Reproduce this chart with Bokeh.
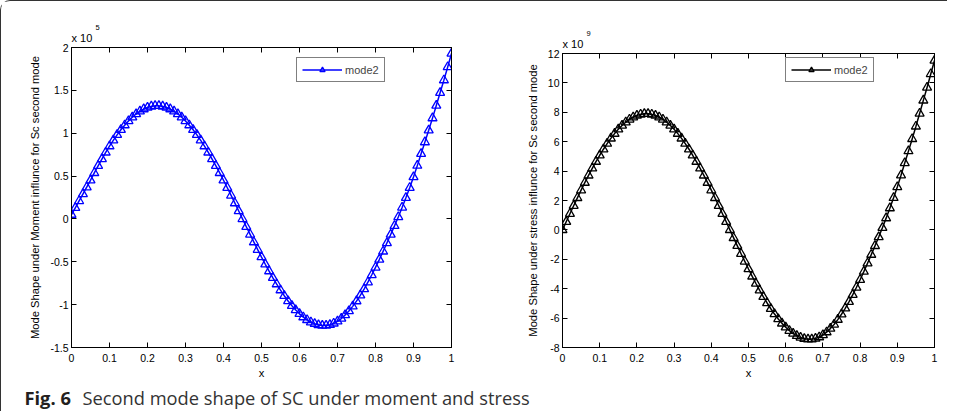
from bokeh.plotting import figure
from bokeh.layouts import column, row
from bokeh.models import LinearAxis, FixedTicker, Label, Legend, LegendItem, Range1d, Title
from bokeh.embed import file_html
from bokeh.resources import INLINE

# ---------------- data ----------------
x_vals = [0.00, 0.01, 0.02, 0.03, 0.04, 0.05, 0.06, 0.07, 0.08, 0.09,
          0.10, 0.11, 0.12, 0.13, 0.14, 0.15, 0.16, 0.17, 0.18, 0.19,
          0.20, 0.21, 0.22, 0.23, 0.24, 0.25, 0.26, 0.27, 0.28, 0.29,
          0.30, 0.31, 0.32, 0.33, 0.34, 0.35, 0.36, 0.37, 0.38, 0.39,
          0.40, 0.41, 0.42, 0.43, 0.44, 0.45, 0.46, 0.47, 0.48, 0.49,
          0.50, 0.51, 0.52, 0.53, 0.54, 0.55, 0.56, 0.57, 0.58, 0.59,
          0.60, 0.61, 0.62, 0.63, 0.64, 0.65, 0.66, 0.67, 0.68, 0.69,
          0.70, 0.71, 0.72, 0.73, 0.74, 0.75, 0.76, 0.77, 0.78, 0.79,
          0.80, 0.81, 0.82, 0.83, 0.84, 0.85, 0.86, 0.87, 0.88, 0.89,
          0.90, 0.91, 0.92, 0.93, 0.94, 0.95, 0.96, 0.97, 0.98, 0.99,
          1.00]

# moment mode shape (units of 1e5)
moment_vals = [0.050, 0.130, 0.210, 0.290, 0.370, 0.451, 0.537, 0.620, 0.699, 0.776,
               0.849, 0.917, 0.981, 1.040, 1.094, 1.143, 1.186, 1.224, 1.255, 1.281,
               1.300, 1.313, 1.319, 1.319, 1.313, 1.300, 1.281, 1.255, 1.224, 1.186,
               1.143, 1.094, 1.040, 0.981, 0.917, 0.849, 0.776, 0.699, 0.620, 0.537,
               0.451, 0.364, 0.274, 0.184, 0.092, 0.000, -0.091, -0.181, -0.271, -0.359,
               -0.445, -0.529, -0.609, -0.687, -0.761, -0.831, -0.896, -0.957, -1.013, -1.063,
               -1.107, -1.146, -1.178, -1.205, -1.224, -1.238, -1.244, -1.244, -1.236, -1.219,
               -1.195, -1.162, -1.122, -1.075, -1.020, -0.959, -0.891, -0.818, -0.738, -0.654,
               -0.566, -0.474, -0.379, -0.281, -0.182, -0.081, 0.023, 0.134, 0.247, 0.364,
               0.488, 0.622, 0.760, 0.896, 1.034, 1.176, 1.323, 1.472, 1.619, 1.773,
               1.930]

# stress mode shape (units of 1e9)
stress_vals = [0.000, 0.551, 1.100, 1.642, 2.177, 2.702, 3.213, 3.709, 4.186, 4.644,
               5.078, 5.488, 5.870, 6.225, 6.549, 6.841, 7.101, 7.325, 7.514, 7.665,
               7.780, 7.857, 7.895, 7.895, 7.857, 7.780, 7.665, 7.514, 7.325, 7.101,
               6.841, 6.549, 6.225, 5.870, 5.488, 5.078, 4.644, 4.186, 3.709, 3.213,
               2.702, 2.177, 1.642, 1.100, 0.551, 0.000, -0.544, -1.085, -1.620, -2.146,
               -2.661, -3.163, -3.646, -4.111, -4.553, -4.971, -5.363, -5.726, -6.059, -6.359,
               -6.625, -6.856, -7.051, -7.208, -7.326, -7.405, -7.445, -7.444, -7.395, -7.297,
               -7.150, -6.956, -6.715, -6.431, -6.105, -5.737, -5.332, -4.892, -4.418, -3.916,
               -3.388, -2.837, -2.268, -1.684, -1.087, -0.485, 0.140, 0.800, 1.480, 2.180,
               2.920, 3.720, 4.550, 5.360, 6.190, 7.040, 7.920, 8.810, 9.690, 10.610,
               11.520]

x_ticks = [0, 0.1, 0.2, 0.3, 0.4, 0.5, 0.6, 0.7, 0.8, 0.9, 1]
x_tick_labels = ["0", "0.1", "0.2", "0.3", "0.4", "0.5", "0.6", "0.7", "0.8", "0.9", "1"]

moment_ticks = [-1.5, -1, -0.5, 0, 0.5, 1, 1.5, 2]
moment_tick_labels = ["-1.5", "-1", "-0.5", "0", "0.5", "1", "1.5", "2"]

stress_ticks = [-8, -6, -4, -2, 0, 2, 4, 6, 8, 10, 12]
stress_tick_labels = ["-8", "-6", "-4", "-2", "0", "2", "4", "6", "8", "10", "12"]

series_label = "mode2"
moment_ylabel = "Mode Shape under Moment influnce for Sc second mode"
stress_ylabel = "Mode Shape under stress influnce for Sc second mode"
x_label = "x"
caption_bold = "Fig. 6"
caption_text = "Second mode shape of SC under moment and stress"

FONT = "Liberation Sans"
TICK_SIZE = "10.5px"
LABEL_SIZE = "11.2px"
ROW_H = 390


def style_axis(ax, ticks, show_labels):
    ax.major_tick_in = 5
    ax.major_tick_out = 0
    ax.minor_tick_line_color = None
    ax.axis_line_color = "black"
    ax.major_tick_line_color = "black"
    ax.major_label_text_font = FONT
    ax.axis_label_text_font = FONT
    ax.axis_label_text_font_size = LABEL_SIZE
    ax.axis_label_text_font_style = "normal"
    ax.axis_label_text_color = "black"
    if show_labels:
        ax.major_label_text_font_size = TICK_SIZE
        ax.major_label_text_color = "black"
        ax.major_label_standoff = 3
    else:
        ax.major_label_overrides = {t: "" for t in ticks}
        ax.major_label_text_font_size = "0px"
        ax.major_label_text_color = None
        ax.major_label_standoff = 0


def make_panel(width, bl, br, bt, frame_h, yr, yticks, ylabels, ylabel, yvals, color,
               exponent, legend_loc, sup_dx):
    p = figure(width=width, height=ROW_H, x_range=Range1d(0, 1), y_range=Range1d(*yr),
               output_backend="svg", toolbar_location=None,
               x_axis_location=None, y_axis_location=None,
               min_border_left=bl, min_border_right=br, min_border_top=bt,
               min_border_bottom=ROW_H - bt - frame_h)
    p.grid.grid_line_color = None
    p.outline_line_color = "black"
    p.background_fill_color = "white"
    p.border_fill_color = "white"

    bx = LinearAxis(ticker=FixedTicker(ticks=x_ticks),
                    major_label_overrides=dict(zip(x_ticks, x_tick_labels)),
                    axis_label=x_label)
    style_axis(bx, x_ticks, True)
    bx.major_label_standoff = 6
    bx.axis_label_standoff = 2
    p.add_layout(bx, "below")

    tx = LinearAxis(ticker=FixedTicker(ticks=x_ticks))
    style_axis(tx, x_ticks, False)
    p.add_layout(tx, "above")

    ly = LinearAxis(ticker=FixedTicker(ticks=yticks),
                    major_label_overrides=dict(zip(yticks, ylabels)),
                    axis_label=ylabel)
    style_axis(ly, yticks, True)
    ly.axis_label_standoff = 6
    p.add_layout(ly, "left")

    ry = LinearAxis(ticker=FixedTicker(ticks=yticks))
    style_axis(ry, yticks, False)
    p.add_layout(ry, "right")

    r_line = p.line(x_vals, yvals, line_color=color, line_width=1.5)
    r_mark = p.scatter(x_vals, yvals, marker="triangle", size=9, line_color=color,
                       fill_color=None, line_width=1.3)

    legend = Legend(items=[LegendItem(label=series_label, renderers=[r_line, r_mark])],
                    location=legend_loc)
    legend.border_line_color = "black"
    legend.border_line_width = 1
    legend.background_fill_color = "white"
    legend.background_fill_alpha = 1
    legend.label_text_font = FONT
    legend.label_text_font_size = "11px"
    legend.glyph_width = 40
    legend.glyph_height = 13
    legend.label_height = 13
    legend.label_standoff = 3
    legend.padding = 5
    legend.margin = 0
    legend.spacing = 0
    p.add_layout(legend, "center")

    # "x 10^n" multiplier above the top-left corner
    p.add_layout(Title(text="x 10", align="left", offset=0, standoff=8,
                       text_font=FONT, text_font_size="11px", text_font_style="normal",
                       text_color="black"), "above")
    p.add_layout(Title(text=exponent, align="left", offset=sup_dx, standoff=-9,
                       text_font=FONT, text_font_size="7.5px", text_font_style="normal",
                       text_color="black"), "above")
    return p


left = make_panel(497, 70, 47, 46, 300, (-1.5, 2), moment_ticks, moment_tick_labels,
                  moment_ylabel, moment_vals, "#0000ff", "5", (225, 265), 24)
right = make_panel(449, 64, 13, 52, 294, (-8, 12), stress_ticks, stress_tick_labels,
                   stress_ylabel, stress_vals, "black", "9", (223, 265), 24)

cap = figure(width=946, height=40, x_range=Range1d(0, 946), y_range=Range1d(0, 40),
             output_backend="svg", toolbar_location=None,
             x_axis_location=None, y_axis_location=None,
             min_border_left=0, min_border_right=0, min_border_top=0, min_border_bottom=0)
cap.grid.grid_line_color = None
cap.outline_line_color = None
cap.background_fill_alpha = 0
cap.border_fill_alpha = 0
cap.margin = (-20, 0, 0, 0)
cap.add_layout(Label(x=23, y=14.5, text=caption_bold, text_font="Open Sans",
                     text_font_size="18.3px", text_font_style="bold",
                     text_baseline="alphabetic", text_color="#231f20"))
cap.add_layout(Label(x=81, y=14.5, text=caption_text, text_font="Open Sans",
                     text_font_size="18.3px", text_baseline="alphabetic",
                     text_color="#333333"))

layout = column(row(column(left), column(right)), cap,
                styles={"border-top": "1.3px solid #333333",
                        "border-left": "1.3px solid #333333",
                        "border-top-left-radius": "10px"})

open("out.html", "w").write(file_html(layout, INLINE))
